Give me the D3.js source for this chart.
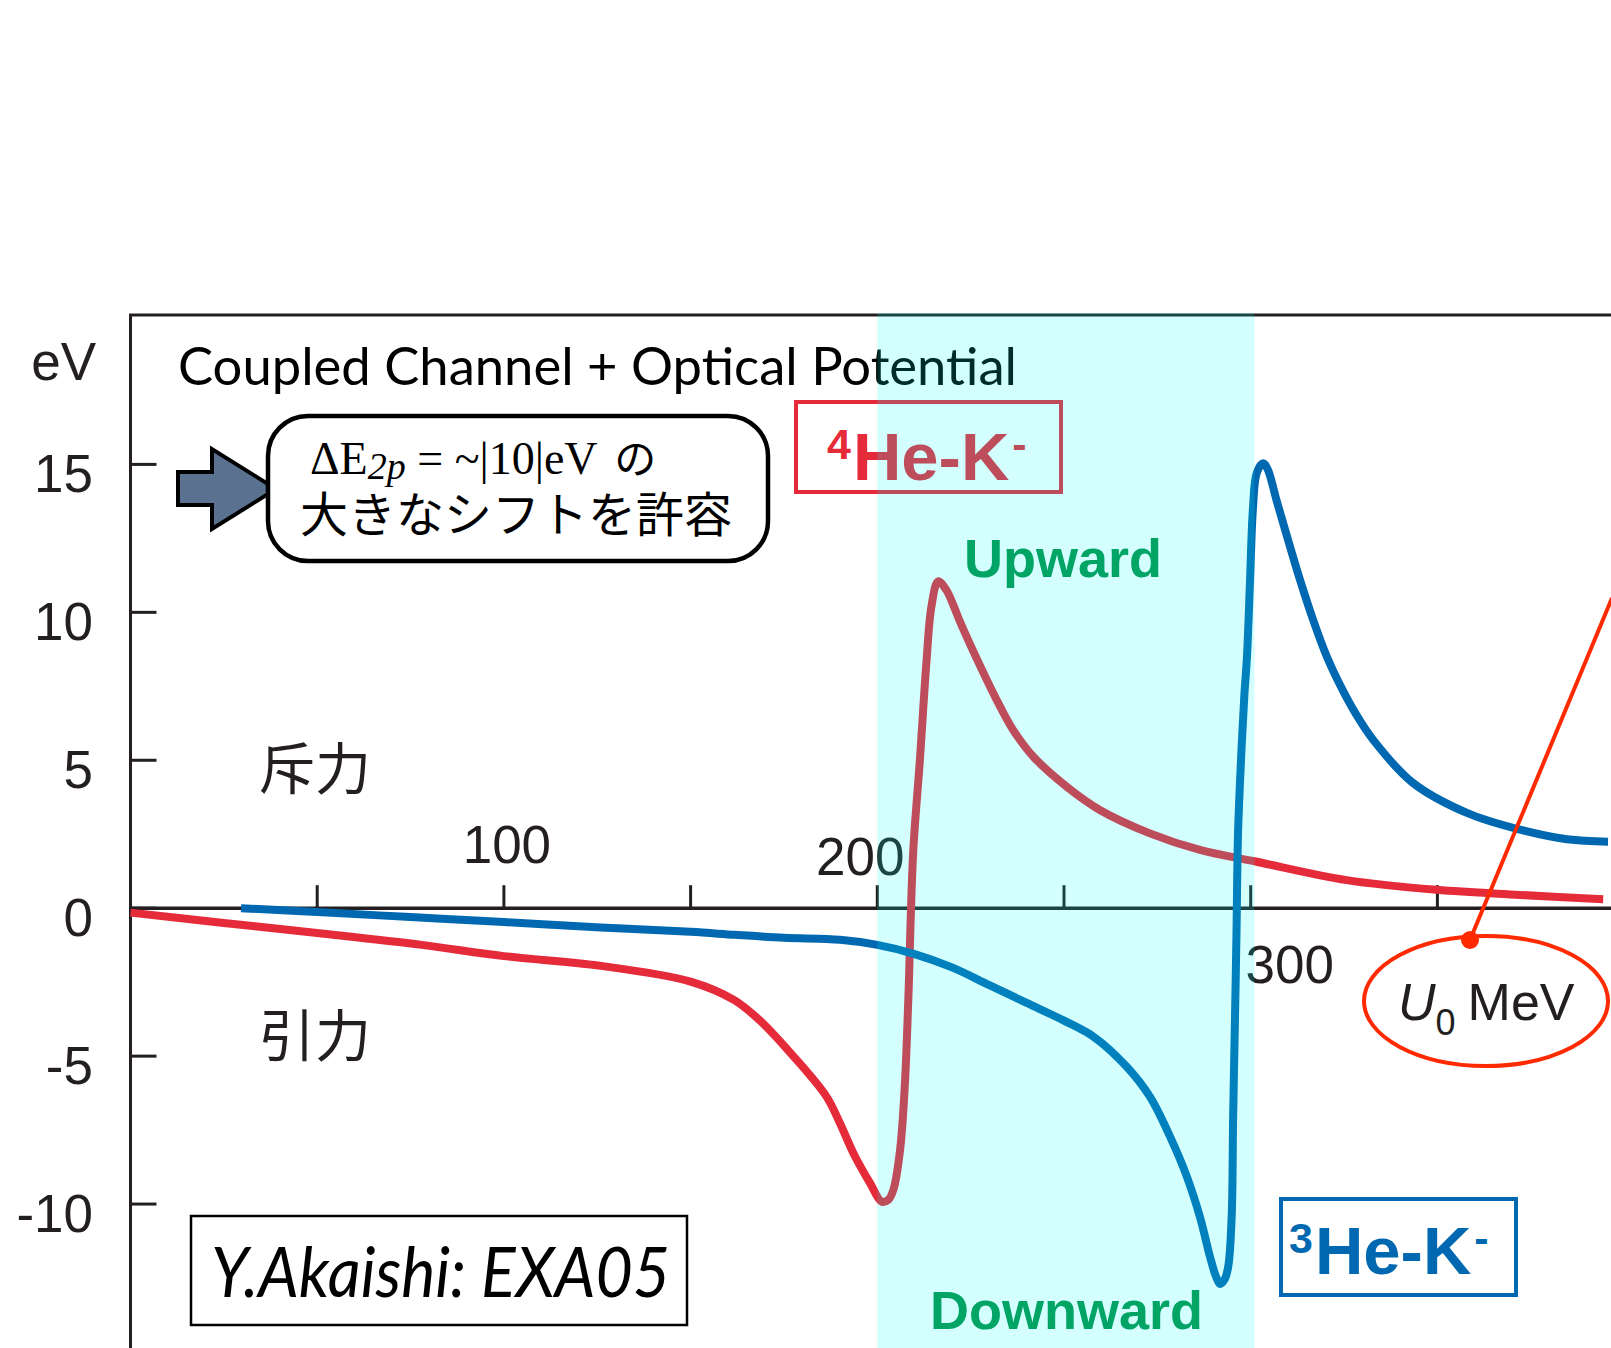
<!DOCTYPE html>
<html>
<head>
<meta charset="utf-8">
<script src="https://cdn.jsdelivr.net/npm/d3@7"></script>
<style>
  html, body { margin: 0; padding: 0; background: #fff; }
  svg { display: block; }
</style>
</head>
<body>
<div id="chart"></div>
<script>
// U0 (MeV) vs 2p level shift (eV)
var heK4 = [
  [0, -0.15], [25, -0.5], [50, -0.84], [78, -1.24], [100, -1.62], [126, -1.95],
  [150, -2.48], [161.6, -3.1], [168.6, -3.8], [177.5, -5.0], [186.4, -6.37],
  [190, -7.27], [193.6, -8.28], [198.1, -9.3], [201.2, -9.92], [203, -9.85],
  [204.3, -9.52], [206.1, -8.17], [207.4, -5.91], [208.3, -3.1], [209.6, 1.86],
  [211.4, 5.0], [213.2, 8.39], [214.5, 10.2], [216.3, 11.05], [218.5, 10.75],
  [220.5, 10.2], [222.1, 9.7], [227.5, 8.2], [232.9, 6.81], [236.4, 6.02],
  [241.8, 5.12], [250.7, 4.11], [259.6, 3.32], [273, 2.53], [286.4, 1.97],
  [301.6, 1.57], [325.7, 0.95], [349.8, 0.62], [372, 0.45], [394.4, 0.3]
];

var heK3 = [
  [29.6, 0], [50, -0.13], [75, -0.3], [100, -0.47], [126, -0.65], [150, -0.8],
  [162, -0.9], [175, -1.0], [190, -1.07], [200, -1.24], [210, -1.55], [220, -2.0],
  [230, -2.6], [240, -3.2], [250, -3.8], [258, -4.35], [266.8, -5.36],
  [273, -6.37], [278.4, -7.72], [282.9, -9.07], [286.4, -10.43],
  [289.1, -11.78], [290.7, -12.45], [291.8, -12.7], [293, -12.55], [294, -12.1],
  [294.9, -10.43], [295.3, -7.05], [295.8, -3.67], [296.2, -0.8], [296.6, 2.5],
  [297.4, 5], [298.3, 7.2], [299, 8.5], [299.8, 11], [300.6, 13.5], [301.6, 14.7],
  [303.3, 15.04], [304.5, 14.85], [307, 13.75], [310, 12.45], [313.2, 11.1],
  [316.7, 9.75], [320.4, 8.5], [323.9, 7.55], [328, 6.6], [332.8, 5.69],
  [343.4, 4.24], [357.9, 3.22], [371.3, 2.68], [384.7, 2.33], [395.7, 2.25]
];

var xTicks      = [50, 100, 150, 200, 250, 300, 350];
var xTickLabels = [100, 200, 300];
var yTicks      = [15, 10, 5, 0, -5, -10];
var band        = [200, 301];

var W = 1611, H = 1348;

var svg = d3.select( '#chart' ).append( 'svg' )
            .attr( 'width', W )
            .attr( 'height', H );

var x = d3.scaleLinear().domain( [ 0, 350 ] ).range( [ 130.5, 1437.4 ] ),
    y = d3.scaleLinear().domain( [ 0, 15 ] ).range( [ 908.2, 464.4 ] );

var ink   = '#231f20',
    red   = '#e52a3a',
    blue  = '#0068b0',
    green = '#009245',
    orange = '#ff2a00',
    sans  = '"Liberation Sans", Arial, Helvetica, sans-serif',
    jp    = '"Noto Sans CJK JP", "Noto Sans CJK SC", sans-serif';

// frame
svg.append( 'path' )
   .attr( 'd', 'M' + x( 0 ) + ',' + ( H + 5 ) + 'V315H' + ( W + 5 ) )
   .attr( 'fill', 'none' )
   .attr( 'stroke', ink )
   .attr( 'stroke-width', 3 );

// x axis at zero
svg.append( 'line' )
   .attr( 'x1', x( 0 ) ).attr( 'x2', W + 5 )
   .attr( 'y1', y( 0 ) ).attr( 'y2', y( 0 ) )
   .attr( 'stroke', ink )
   .attr( 'stroke-width', 3.5 );

svg.append( 'g' ).selectAll( 'line' )
   .data( xTicks )
   .enter().append( 'line' )
   .attr( 'x1', function( d ) { return x( d ); } )
   .attr( 'x2', function( d ) { return x( d ); } )
   .attr( 'y1', y( 0 ) )
   .attr( 'y2', y( 0 ) - 23 )
   .attr( 'stroke', ink )
   .attr( 'stroke-width', 3 );

// the slide placed these labels by hand
var xLabelShift = { 100: [ 3, -45 ], 200: [ -17, -33 ], 300: [ 39, 75 ] };

svg.append( 'g' ).selectAll( 'text' )
   .data( xTickLabels )
   .enter().append( 'text' )
   .attr( 'x', function( d ) { return x( d ) + xLabelShift[ d ][ 0 ]; } )
   .attr( 'y', function( d ) { return y( 0 ) + xLabelShift[ d ][ 1 ]; } )
   .attr( 'text-anchor', 'middle' )
   .attr( 'font-family', sans )
   .attr( 'font-size', 53 )
   .attr( 'fill', ink )
   .text( function( d ) { return d; } );

// y ticks
svg.append( 'g' ).selectAll( 'line' )
   .data( yTicks )
   .enter().append( 'line' )
   .attr( 'x1', x( 0 ) )
   .attr( 'x2', x( 0 ) + 26 )
   .attr( 'y1', function( d ) { return y( d ); } )
   .attr( 'y2', function( d ) { return y( d ); } )
   .attr( 'stroke', ink )
   .attr( 'stroke-width', 3 );

svg.append( 'g' ).selectAll( 'text' )
   .data( yTicks )
   .enter().append( 'text' )
   .attr( 'x', 93 )
   .attr( 'y', function( d ) { return y( d ) + 28; } )
   .attr( 'text-anchor', 'end' )
   .attr( 'font-family', sans )
   .attr( 'font-size', 53 )
   .attr( 'fill', ink )
   .text( function( d ) { return d; } );

svg.append( 'text' )
   .attr( 'x', 96 ).attr( 'y', 380 )
   .attr( 'text-anchor', 'end' )
   .attr( 'font-family', sans )
   .attr( 'font-size', 53 )
   .attr( 'fill', ink )
   .text( 'eV' );

// curves
var line = d3.line()
             .x( function( d ) { return x( d[ 0 ] ); } )
             .y( function( d ) { return y( d[ 1 ] ); } )
             .curve( d3.curveCatmullRom.alpha( 0.5 ) );

svg.append( 'path' )
   .attr( 'd', line( heK4 ) )
   .attr( 'fill', 'none' )
   .attr( 'stroke', red )
   .attr( 'stroke-width', 8 )
   .attr( 'stroke-linejoin', 'round' );

svg.append( 'path' )
   .attr( 'd', line( heK3 ) )
   .attr( 'fill', 'none' )
   .attr( 'stroke', blue )
   .attr( 'stroke-width', 8 )
   .attr( 'stroke-linejoin', 'round' );

// title
svg.append( 'text' )
   .attr( 'x', 178 ).attr( 'y', 385 )
   .attr( 'font-family', 'Lato, "Open Sans", sans-serif' )
   .attr( 'font-size', 52 )
   .attr( 'textLength', 839 )
   .attr( 'lengthAdjust', 'spacingAndGlyphs' )
   .attr( 'fill', '#000' )
   .text( 'Coupled Channel + Optical Potential' );

// arrow + callout
svg.append( 'polygon' )
   .attr( 'points', '178,472 212,472 212,449 276,489 212,529 212,505 178,505' )
   .attr( 'fill', '#5b7190' )
   .attr( 'stroke', '#000' )
   .attr( 'stroke-width', 4 )
   .attr( 'stroke-linejoin', 'miter' );

svg.append( 'rect' )
   .attr( 'x', 268 ).attr( 'y', 416 )
   .attr( 'width', 500 ).attr( 'height', 145 )
   .attr( 'rx', 40 )
   .attr( 'fill', '#fff' )
   .attr( 'stroke', '#000' )
   .attr( 'stroke-width', 4.5 );

var l1 = svg.append( 'text' )
            .attr( 'x', 310 ).attr( 'y', 474 )
            .attr( 'font-family', '"Liberation Serif", "Times New Roman", serif' )
            .attr( 'font-size', 46 )
            .attr( 'fill', '#000' );
l1.append( 'tspan' ).text( 'ΔE' );
l1.append( 'tspan' ).attr( 'font-style', 'italic' ).attr( 'font-size', 38 ).attr( 'dy', 5 ).text( '2p' );
l1.append( 'tspan' ).attr( 'dy', -5 ).text( ' = ~|10|eV ' );
l1.append( 'tspan' ).attr( 'font-family', jp ).attr( 'font-size', 42 ).attr( 'dx', 6 ).text( 'の' );

svg.append( 'text' )
   .attr( 'x', 300 ).attr( 'y', 532 )
   .attr( 'font-family', jp )
   .attr( 'font-size', 48 )
   .attr( 'fill', '#000' )
   .text( '大きなシフトを許容' );

// repulsive / attractive
svg.append( 'text' )
   .attr( 'x', 259 ).attr( 'y', 789 )
   .attr( 'font-family', jp ).attr( 'font-size', 56 ).attr( 'fill', ink )
   .text( '斥力' );
svg.append( 'text' )
   .attr( 'x', 259 ).attr( 'y', 1056 )
   .attr( 'font-family', jp ).attr( 'font-size', 56 ).attr( 'fill', ink )
   .text( '引力' );

// species labels
function speciesLabel( bx, by, bw, bh, mass, col, tx, ty ) {
  svg.append( 'rect' )
     .attr( 'x', bx ).attr( 'y', by )
     .attr( 'width', bw ).attr( 'height', bh )
     .attr( 'fill', 'none' )
     .attr( 'stroke', col )
     .attr( 'stroke-width', 4 );

  var t = svg.append( 'text' )
             .attr( 'x', tx ).attr( 'y', ty )
             .attr( 'font-family', sans )
             .attr( 'font-weight', 'bold' )
             .attr( 'fill', col );
  t.append( 'tspan' ).attr( 'font-size', 43 ).attr( 'dy', -21 ).text( mass );
  t.append( 'tspan' ).attr( 'font-size', 67 ).attr( 'dy', 21 ).attr( 'dx', 2 ).text( 'He-K' );
  t.append( 'tspan' ).attr( 'font-size', 43 ).attr( 'dy', -21 ).attr( 'dx', 3 ).text( '-' );
}

speciesLabel( 796, 402, 265, 90, '4', red, 827, 480 );
speciesLabel( 1281, 1199, 235, 96, '3', blue, 1289, 1274 );

svg.append( 'text' )
   .attr( 'x', 964 ).attr( 'y', 577 )
   .attr( 'font-family', sans ).attr( 'font-weight', 'bold' )
   .attr( 'font-size', 54 ).attr( 'fill', green )
   .text( 'Upward' );
svg.append( 'text' )
   .attr( 'x', 930 ).attr( 'y', 1329 )
   .attr( 'font-family', sans ).attr( 'font-weight', 'bold' )
   .attr( 'font-size', 54 ).attr( 'fill', green )
   .text( 'Downward' );

// citation box
svg.append( 'rect' )
   .attr( 'x', 191 ).attr( 'y', 1216 )
   .attr( 'width', 496 ).attr( 'height', 109 )
   .attr( 'fill', 'none' )
   .attr( 'stroke', '#000' )
   .attr( 'stroke-width', 2.5 );
svg.append( 'text' )
   .attr( 'x', 211 ).attr( 'y', 1297 )
   .attr( 'font-family', 'Lato, "Open Sans", sans-serif' )
   .attr( 'font-style', 'italic' )
   .attr( 'font-size', 70 )
   .attr( 'textLength', 459 )
   .attr( 'lengthAdjust', 'spacingAndGlyphs' )
   .attr( 'fill', '#000' )
   .text( 'Y.Akaishi: EXA05' );

// U0 axis callout
svg.append( 'line' )
   .attr( 'x1', 1470 ).attr( 'y1', 940 )
   .attr( 'x2', 1612 ).attr( 'y2', 598 )
   .attr( 'stroke', orange )
   .attr( 'stroke-width', 4 );
svg.append( 'ellipse' )
   .attr( 'cx', 1486 ).attr( 'cy', 1001 )
   .attr( 'rx', 122 ).attr( 'ry', 65 )
   .attr( 'fill', 'none' )
   .attr( 'stroke', orange )
   .attr( 'stroke-width', 4 );
svg.append( 'circle' )
   .attr( 'cx', 1470 ).attr( 'cy', 940 ).attr( 'r', 9 )
   .attr( 'fill', orange );

var u0 = svg.append( 'text' )
            .attr( 'x', 1398 ).attr( 'y', 1020 )
            .attr( 'font-family', sans )
            .attr( 'font-size', 52 )
            .attr( 'fill', ink );
u0.append( 'tspan' ).attr( 'font-style', 'italic' ).text( 'U' );
u0.append( 'tspan' ).attr( 'font-size', 36 ).attr( 'dy', 15 ).text( '0' );
u0.append( 'tspan' ).attr( 'dy', -15 ).attr( 'dx', 12 ).text( 'MeV' );

// translucent cyan band laid over everything
svg.append( 'rect' )
   .attr( 'x', x( band[ 0 ] ) )
   .attr( 'y', 313 )
   .attr( 'width', x( band[ 1 ] ) - x( band[ 0 ] ) )
   .attr( 'height', H - 313 )
   .attr( 'fill', 'rgb(0,255,255)' )
   .attr( 'fill-opacity', 0.17 );
</script>
</body>
</html>
